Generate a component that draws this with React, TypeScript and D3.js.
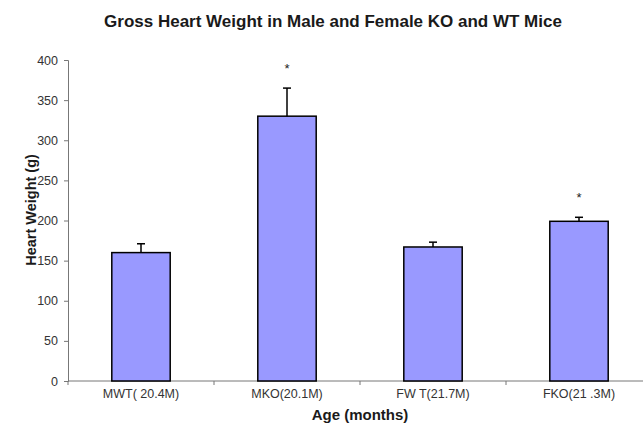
import { useEffect, useRef } from 'react';
import * as d3 from 'd3';

const groups = ['MWT( 20.4M)', 'MKO(20.1M)', 'FW T(21.7M)', 'FKO(21 .3M)'];
const weights = [160, 330, 167, 199];
const errors = [11, 35, 6, 5];
const significant = [false, true, false, true];
const yTicks = [0, 50, 100, 150, 200, 250, 300, 350, 400];

const App = () => {
  const svgRef = useRef<SVGSVGElement>(null);

  useEffect(() => {
    const svg = d3.select(svgRef.current);
    svg.selectAll('*').remove();

    const height = 423;
    const axisLeft = 68,
      axisRight = 652; // plot runs past the right edge of the picture
    const font = 'Arial, "Liberation Sans", sans-serif';

    const x = d3
      .scaleBand()
      .domain(groups)
      .range([axisLeft, axisRight])
      .paddingInner(0.6)
      .paddingOuter(0.3);

    const y = d3.scaleLinear().domain([0, 400]).range([381, 60]);

    // title
    svg
      .append('text')
      .attr('x', 333)
      .attr('y', 27)
      .attr('text-anchor', 'middle')
      .attr('font-family', font)
      .attr('font-weight', 'bold')
      .attr('font-size', 17)
      .attr('fill', '#1a1a1a')
      .text('Gross Heart Weight in Male and Female KO and WT Mice');

    // y axis
    const yAxis = svg
      .append('g')
      .attr('transform', `translate(${axisLeft},0)`)
      .call(d3.axisLeft(y).tickValues(yTicks).tickSize(4).tickPadding(6));
    yAxis.select('.domain').attr('stroke', '#777');
    yAxis.selectAll('line').attr('stroke', '#777');
    yAxis
      .selectAll('text')
      .attr('font-family', font)
      .attr('font-size', 12.5)
      .attr('fill', '#333');

    // x axis with ticks between categories
    const base = y(0);
    const xg = svg.append('g');
    xg.append('line')
      .attr('x1', axisLeft)
      .attr('x2', axisRight)
      .attr('y1', base)
      .attr('y2', base)
      .attr('stroke', '#777');
    const edges = d3.range(groups.length + 1).map((i) => axisLeft + i * x.step());
    xg.selectAll('.tk')
      .data(edges)
      .enter()
      .append('line')
      .attr('x1', (d) => d)
      .attr('x2', (d) => d)
      .attr('y1', base)
      .attr('y2', base + 4)
      .attr('stroke', '#777');
    xg.selectAll('.lbl')
      .data(groups)
      .enter()
      .append('text')
      .attr('x', (d) => (x(d) as number) + x.bandwidth() / 2)
      .attr('y', 398)
      .attr('text-anchor', 'middle')
      .attr('font-family', font)
      .attr('font-size', 12.5)
      .attr('fill', '#333')
      .text((d) => d);

    // bars
    const cx = (d: string) => (x(d) as number) + x.bandwidth() / 2;
    const bars = svg.selectAll('.bar').data(groups).enter().append('g');
    bars
      .append('rect')
      .attr('x', (d) => x(d) as number)
      .attr('y', (d, i) => y(weights[i]))
      .attr('width', x.bandwidth())
      .attr('height', (d, i) => base - y(weights[i]))
      .attr('fill', '#9999FF')
      .attr('stroke', '#000')
      .attr('stroke-width', 1.5);
    bars
      .append('line')
      .attr('x1', cx)
      .attr('x2', cx)
      .attr('y1', (d, i) => y(weights[i]))
      .attr('y2', (d, i) => y(weights[i] + errors[i]))
      .attr('stroke', '#000')
      .attr('stroke-width', 1.5);
    bars
      .append('line')
      .attr('x1', (d) => cx(d) - 4)
      .attr('x2', (d) => cx(d) + 4)
      .attr('y1', (d, i) => y(weights[i] + errors[i]))
      .attr('y2', (d, i) => y(weights[i] + errors[i]))
      .attr('stroke', '#000')
      .attr('stroke-width', 1.5);
    bars
      .filter((d, i) => significant[i])
      .append('text')
      .attr('x', cx)
      .attr('y', (d) => {
        const i = groups.indexOf(d);
        return y(weights[i] + errors[i]) - 15;
      })
      .attr('text-anchor', 'middle')
      .attr('font-family', font)
      .attr('font-size', 13)
      .attr('fill', '#222')
      .text('*');

    // axis titles
    svg
      .append('text')
      .attr('x', (axisLeft + axisRight) / 2)
      .attr('y', 420)
      .attr('text-anchor', 'middle')
      .attr('font-family', font)
      .attr('font-weight', 'bold')
      .attr('font-size', 15)
      .attr('fill', '#1a1a1a')
      .text('Age (months)');
    svg
      .append('text')
      .attr('transform', `translate(36,210) rotate(-90)`)
      .attr('text-anchor', 'middle')
      .attr('font-family', font)
      .attr('font-weight', 'bold')
      .attr('font-size', 14.5)
      .attr('fill', '#1a1a1a')
      .text('Heart Weight (g)');

    svg.attr('height', height);
  }, []);

  return (
    <svg
      ref={svgRef}
      width={643}
      height={423}
      style={{ position: 'absolute', left: 0, top: 0, background: '#fff' }}
    ></svg>
  );
};

export default App;
